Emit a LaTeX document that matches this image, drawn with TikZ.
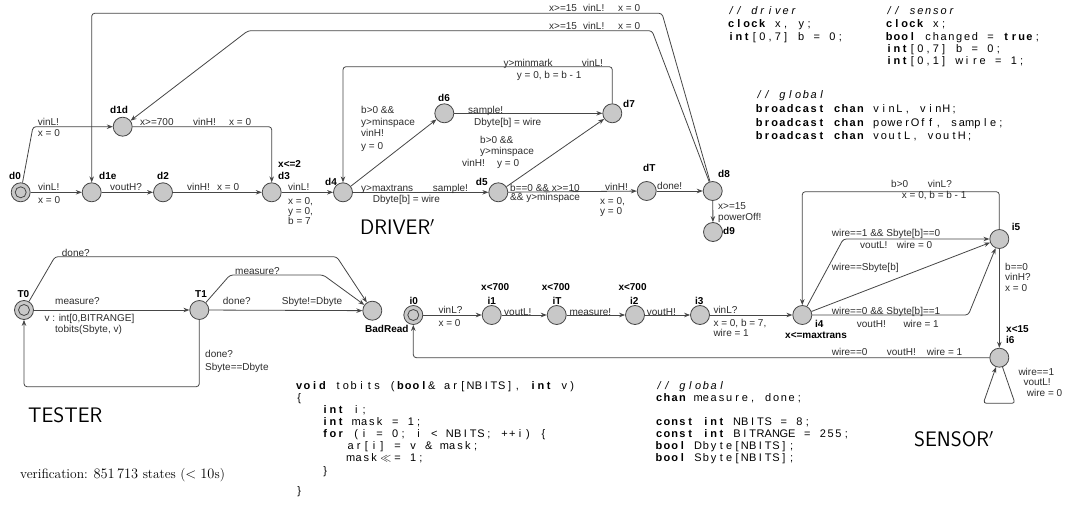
\documentclass[tikz,border=0pt]{standalone}
\usepackage{fontspec}
\usetikzlibrary{arrows.meta}
\newfontfamily\lblfont{Liberation Sans}
\newfontfamily\codefont{Liberation Sans}
\definecolor{edgecol}{RGB}{70,70,70}
\definecolor{locfill}{RGB}{200,200,200}
\definecolor{labcol}{RGB}{45,45,45}
\ExplSyntaxOn
\dim_new:N \l_fcol_dim
\dim_set:Nn \l_fcol_dim {7.8pt}
\NewDocumentCommand \FC { m } { \str_map_inline:nn {#1} { \makebox[\l_fcol_dim][c]{##1} } }
\NewDocumentCommand \FK { O{1} m } { \makebox[#1\l_fcol_dim][c]{#2} }
\ExplSyntaxOff
\newcounter{lbc}
\newcommand\LBL[2]{\stepcounter{lbc}\node[lab] (lab-\the\value{lbc}) at (#1) {#2};}
\newcommand\NML[2]{\stepcounter{lbc}\node[nm] (lab-\the\value{lbc}) at (#1) {#2};}
\newcommand\CDL[2]{\stepcounter{lbc}\node[code] (lab-\the\value{lbc}) at (#1) {#2};}
\tikzset{
  loc/.style={circle,draw=edgecol,fill=locfill,minimum size=19pt,inner sep=0pt,line width=0.8pt},
  inner/.style={draw=edgecol,line width=0.8pt},
  edge/.style={draw=edgecol,line width=0.8pt,rounded corners=3pt,-{Stealth[length=6pt,width=4.5pt]}},
  lab/.style={anchor=west,inner sep=0pt,text height=7.2pt,text depth=0pt,text=labcol,font=\lblfont\fontsize{10}{12}\selectfont},
  nm/.style={anchor=west,inner sep=0pt,text height=7.2pt,text depth=0pt,font=\lblfont\bfseries\fontsize{10}{12}\selectfont},
  code/.style={anchor=west,inner sep=0pt,text height=7.8pt,text depth=0pt,font=\codefont\fontsize{11}{13}\selectfont},
  ttl/.style={anchor=west,inner sep=0pt,font=\sffamily\fontsize{21}{24}\selectfont},
}
\begin{document}
\begin{tikzpicture}[x=1pt,y=-1pt]
\fill[white] (0,0) rectangle (1065,508);
\useasboundingbox (0,0) rectangle (1065,508);

% ================= DRIVER =================
\node[loc] (d0) at (20.7,192.3) {};
\draw[inner] (d0.center) circle[radius=5.5pt];
\node[loc] (d1d) at (122.7,126.7) {};
\node[loc] (d1e) at (91.7,192.3) {};
\node[loc] (d2) at (163,192.3) {};
\node[loc] (d3) at (271.7,192.3) {};
\node[loc] (d4) at (343,192.3) {};
\node[loc] (d6) at (444.3,113.3) {};
\node[loc] (d7) at (612.3,113.3) {};
\node[loc] (d5) at (498.3,192.3) {};
\node[loc] (dT) at (646.7,191) {};
\node[loc] (d8) at (712.7,191) {};
\node[loc] (d9) at (713,232) {};

\draw[edge] (d0) -- (d1e);
\draw[edge] (d0) -- (33,126.7) -- (d1d);
\draw[edge] (d1d) -- (d1d -| d3) -- (d3);
\draw[edge] (d1e) -- (d2);
\draw[edge] (d2) -- (d3);
\draw[edge] (d3) -- (d4);
\draw[edge] (d4) -- (d5);
\draw[edge] (d4) -- (d6);
\draw[edge] (d6) -- (d7);
\draw[edge] (d5) -- (d7);
\draw[edge] (d5) -- (dT);
\draw[edge] (dT) -- (d8);
\draw[edge] (d8) -- (d9);
\draw[edge] (d7) -- (612.3,66.7) -- (343,66.7) -- (d4);
\draw[edge] (d8) -- (662,13.3) -- (91.7,13.3) -- (d1e);
\draw[edge] (d8) -- (652,30.7) -- (248,30.7) -- (d1d);

\NML{9,176}{d0}
\NML{110,110}{d1d}
\NML{99,176}{d1e}
\NML{157,176}{d2}
\NML{278,176}{d3}
\NML{278,164}{x<=2}
\NML{325,182}{d4}
\NML{438,97.7}{d6}
\NML{623,104}{d7}
\NML{475.7,181.7}{d5}
\NML{643,168.3}{dT}
\NML{718,174}{d8}
\NML{723,231}{d9}

\LBL{37.7,121.7}{vinL!}
\LBL{37.7,133}{x = 0}
\LBL{140,122}{x>=700}
\LBL{193,122}{vinH!}
\LBL{229,122}{x = 0}
\LBL{38,187}{vinL!}
\LBL{38,200}{x = 0}
\LBL{110,187}{voutH?}
\LBL{187,187}{vinH!}
\LBL{217,187}{x = 0}
\LBL{288,187}{vinL!}
\LBL{288,201}{x = 0,}
\LBL{288,211}{y = 0,}
\LBL{288,220.5}{b = 7}
\LBL{361,110}{b>0 \&\&}
\LBL{361,121.5}{y>minspace}
\LBL{361,133.3}{vinH!}
\LBL{361,145.7}{y = 0}
\LBL{468,110}{sample!}
\LBL{474,121.7}{Dbyte[b] = wire}
\LBL{480,140}{b>0 \&\&}
\LBL{480,150.7}{y>minspace}
\LBL{462,163.3}{vinH!}
\LBL{497,163.3}{y = 0}
\LBL{361,187.7}{y>maxtrans}
\LBL{432.7,187.7}{sample!}
\LBL{372.7,199.3}{Dbyte[b] = wire}
\LBL{510,187.7}{b==0 \&\& x>=10}
\LBL{510,197}{\&\& y>minspace}
\LBL{605,187}{vinH!}
\LBL{600,201}{x = 0,}
\LBL{600,211}{y = 0}
\LBL{657,186}{done!}
\LBL{503.3,62.7}{y>minmark}
\LBL{581.7,62.7}{vinL!}
\LBL{516.7,75}{y = 0, b = b - 1}
\LBL{549,8.3}{x>=15}
\LBL{583,8.3}{vinL!}
\LBL{618,8.3}{x = 0}
\LBL{549,26}{x>=15}
\LBL{583,26}{vinL!}
\LBL{618,26}{x = 0}
\LBL{718,206}{x>=15}
\LBL{718,216.7}{powerOff!}
\node[ttl] (tdriver) at (360,227) {DRIVER$'$};

% ================= TESTER =================
\node[loc] (T0) at (24,310) {};
\draw[inner] (T0.center) circle[radius=5.5pt];
\node[loc] (T1) at (199.3,310) {};
\node[loc] (BadRead) at (372.3,310.7) {};

\draw[edge] (T0) -- (T1);
\draw[edge] (T1) -- (BadRead);
\draw[edge] (T0) -- (55,256.7) -- (336.7,256.7) -- (BadRead);
\draw[edge] (T1) -- (230,275) -- (323.3,275) -- (BadRead);
\draw[edge] (T1) -- (199.3,386.7) -- (24,386.7) -- (T0);

\NML{17.3,294}{T0}
\NML{195,294}{T1}
\NML{365,329.3}{BadRead}
\LBL{55,301}{measure?}
\LBL{44.3,317.7}{v : int[0,BITRANGE]}
\LBL{55,329.3}{tobits(Sbyte, v)}
\LBL{61.7,252.7}{done?}
\LBL{235,270.7}{measure?}
\LBL{222.7,301}{done?}
\LBL{281.7,301}{Sbyte!=Dbyte}
\LBL{205,354.3}{done?}
\LBL{205,366.7}{Sbyte==Dbyte}
\node[ttl] (ttester) at (28,415) {TESTER};

% ================= SENSOR =================
\node[loc] (i0) at (413.3,315) {};
\draw[inner] (i0.center) circle[radius=5.5pt];
\node[loc] (i1) at (491.7,315) {};
\node[loc] (iT) at (556.7,315) {};
\node[loc] (i2) at (635,315) {};
\node[loc] (i3) at (700,315) {};
\node[loc] (i4) at (802.3,315) {};
\node[loc] (i5) at (999.3,239) {};
\node[loc] (i6) at (999.3,357.7) {};

\draw[edge] (i0) -- (i1);
\draw[edge] (i1) -- (iT);
\draw[edge] (iT) -- (i2);
\draw[edge] (i2) -- (i3);
\draw[edge] (i3) -- (i4);
\draw[edge] (i5) -- (999.3,191.7) -- (802.3,191.7) -- (i4);
\draw[edge] (i4) -- (843.3,239) -- (i5);
\draw[edge] (i4) -- (i5);
\draw[edge] (i4) -- (968.3,315) -- (i5);
\draw[edge] (i5) -- (i6);
\draw[edge] (i6) -- (413.3,357.7) -- (i0);
\draw[edge] (i6) -- (1015,403.3) -- (983.3,403.3) -- (i6);

\NML{409.3,300.7}{i0}
\NML{487.3,300.7}{i1}
\NML{481,286.7}{x<700}
\NML{552.3,300.7}{iT}
\NML{541.7,286.7}{x<700}
\NML{630,300.7}{i2}
\NML{618.3,286.7}{x<700}
\NML{695,300.7}{i3}
\NML{815,324}{i4}
\NML{785,334.5}{x<=maxtrans}
\NML{1011.7,227.3}{i5}
\NML{1006,340}{i6}
\NML{1006,329.3}{x<15}

\LBL{438.3,310}{vinL?}
\LBL{438.3,323.3}{x = 0}
\LBL{504,311.7}{voutL!}
\LBL{569.3,311.7}{measure!}
\LBL{646.7,311.7}{voutH!}
\LBL{713.3,310}{vinL?}
\LBL{713.3,323.3}{x = 0, b = 7,}
\LBL{713.3,333.3}{wire = 1}
\LBL{891,184}{b>0}
\LBL{927.7,184}{vinL?}
\LBL{901.7,195}{x = 0, b = b - 1}
\LBL{831.7,233.3}{wire==1 \&\& Sbyte[b]==0}
\LBL{860,245}{voutL!}
\LBL{896.7,245}{wire = 0}
\LBL{831.7,266.7}{wire==Sbyte[b]}
\LBL{831.7,311}{wire==0 \&\& Sbyte[b]==1}
\LBL{856.7,324}{voutH!}
\LBL{903.3,324}{wire = 1}
\LBL{1005,266.7}{b==0}
\LBL{1005,277.3}{vinH?}
\LBL{1005,288.3}{x = 0}
\LBL{831.7,351.7}{wire==0}
\LBL{886.7,351.7}{voutH!}
\LBL{926.7,351.7}{wire = 1}
\LBL{1018.3,371.7}{wire==1}
\LBL{1023.3,382.3}{voutL!}
\LBL{1026.7,392.7}{wire = 0}
\node[ttl] (tsensor) at (914,439) {SENSOR$'$};

% ================= CODE =================
\CDL{727,11}{\itshape\FC{// driver}}
\CDL{727,24}{\textbf{\FC{clock}}\FC{ x, y;}}
\CDL{727,37}{\textbf{\FC{int}}\FC{[0,7] b = 0;}}

\CDL{885,11}{\itshape\FC{// sensor}}
\CDL{885,24}{\textbf{\FC{clock}}\FC{ x;}}
\CDL{885,36.5}{\textbf{\FC{bool}}\FC{ changed = }\textbf{\FC{true}}\FC{;}}
\CDL{885,49}{\textbf{\FC{int}}\FC{[0,7] b = 0;}}
\CDL{885,61}{\textbf{\FC{int}}\FC{[0,1] wire = 1;}}

\CDL{755,95}{\itshape\FC{// global}}
\CDL{755,109}{\textbf{\FC{broadcast chan}}\FC{ vinL, vinH;}}
\CDL{755,122.5}{\textbf{\FC{broadcast chan}}\FC{ powerOff, sample;}}
\CDL{755,136}{\textbf{\FC{broadcast chan}}\FC{ voutL, voutH;}}

\CDL{295,386}{\textbf{\FC{void}}\FC{ tobits (}\textbf{\FC{bool}}\FC{& ar[NBITS], }\textbf{\FC{int}}\FC{ v)}}
\CDL{295,398}{\FK{\{}}
\CDL{321,410}{\textbf{\FC{int}}\FC{ i;}}
\CDL{321,422}{\textbf{\FC{int}}\FC{ mask = 1;}}
\CDL{321,434}{\textbf{\FC{for}}\FC{ (i = 0; i < NBITS; ++i) }\FK{\{}}
\CDL{346.7,446}{\FC{ar[i] = v & mask;}}
\CDL{346.7,458}{\FC{mask}\FK[2]{$\ll$}\FC{= 1;}}
\CDL{321,471}{\FK{\}}}
\CDL{295,491}{\FK{\}}}

\CDL{655,386}{\itshape\FC{// global}}
\CDL{655,398}{\textbf{\FC{chan}}\FC{ measure, done;}}
\CDL{655,422}{\textbf{\FC{const int}}\FC{ NBITS = 8;}}
\CDL{655,434}{\textbf{\FC{const int}}\FC{ BITRANGE = 255;}}
\CDL{655,446}{\textbf{\FC{bool}}\FC{ Dbyte[NBITS];}}
\CDL{655,458}{\textbf{\FC{bool}}\FC{ Sbyte[NBITS];}}

\node[anchor=west,inner sep=0pt,font=\fontsize{13.5}{16}\selectfont] (verif) at (20,475) {verification: $851\,713$ states ($<10$s)};
\end{tikzpicture}
\end{document}
